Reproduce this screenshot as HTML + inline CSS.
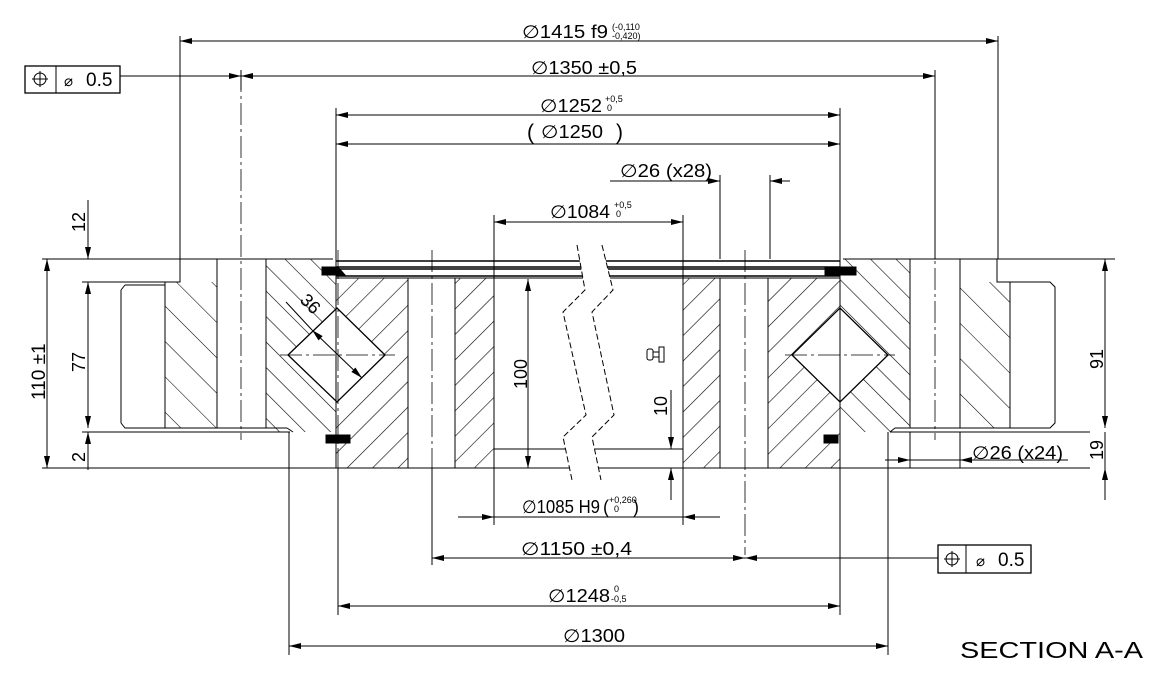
<!DOCTYPE html>
<html><head><meta charset="utf-8"><style>
html,body{margin:0;padding:0;background:#fff}
svg{display:block}
text{font-family:"Liberation Sans",sans-serif;fill:#000}
</style></head><body>
<svg width="1163" height="676" viewBox="0 0 1163 676" xmlns="http://www.w3.org/2000/svg">
<defs>
<marker id="a" viewBox="0 0 12 6" refX="12" refY="3" markerWidth="12" markerHeight="6" markerUnits="userSpaceOnUse" orient="auto-start-reverse"><path d="M0,0L12,3L0,6z" fill="#000"/></marker>
<pattern id="hb" width="18" height="18" patternUnits="userSpaceOnUse" patternTransform="rotate(-45)"><line x1="0" y1="0" x2="0" y2="18" stroke="#000" stroke-width="1.2"/></pattern>
<pattern id="hb2" width="25" height="25" patternUnits="userSpaceOnUse" patternTransform="rotate(-45)"><line x1="0" y1="0" x2="0" y2="25" stroke="#000" stroke-width="1.1"/></pattern>
<pattern id="hf" width="18" height="18" patternUnits="userSpaceOnUse" patternTransform="rotate(45)"><line x1="0" y1="0" x2="0" y2="18" stroke="#000" stroke-width="1.2"/></pattern>
</defs>
<g stroke="#000" fill="none" stroke-width="1">
<rect x="165" y="282" width="52" height="146" fill="url(#hb2)" stroke="none"/>
<rect x="266" y="259" width="70" height="173" fill="url(#hb)" stroke="none"/>
<rect x="336" y="278" width="72" height="190" fill="url(#hf)" stroke="none"/>
<rect x="455" y="278" width="39" height="190" fill="url(#hf)" stroke="none"/>
<rect x="683" y="278" width="37" height="190" fill="url(#hf)" stroke="none"/>
<rect x="768" y="278" width="72" height="190" fill="url(#hf)" stroke="none"/>
<rect x="840" y="259" width="70" height="173" fill="url(#hb)" stroke="none"/>
<rect x="960" y="282" width="50" height="146" fill="url(#hb2)" stroke="none"/>
<path d="M288,355L337,308L385,355L337,402Z" fill="#fff" stroke-width="1.3"/>
<path d="M792,355L840,308L888,355L840,402Z" fill="#fff" stroke-width="1.3"/>
<path d="M42,259H333 M82,282H180V259 M125,285H165 M121,290V423 M125,285L121,290 M121,423L125,428H287 M82,432H290 M165,282V428 M217,259V428 M266,259V428 M287,428L293,432"/>
<path d="M843,259H1115 M997,259V282H1050L1055,287V423L1050,428H895 M890,432H1090 M910,259V428 M960,259V428 M1010,282V428 M895,428L890,432"/>
<path d="M336,278H840 M336,468H1090 M42,468H336 M408,278V468 M455,278V468 M494,278V468 M683,278V468 M720,278V468 M768,278V468 M336,259V468 M840,259V468 M494,449H683"/>
<path d="M336,261H840 M336,267H840 M336,269H840 M336,276H840" stroke-width="1.4"/>
<path d="M322,267H338L345,275H322Z M825,267H856V275H825Z M326,435H350V443H326Z M824,435H838V443H824Z" fill="#000"/>
<g stroke-dasharray="22,4,3,4" stroke-width="0.8">
<line x1="241" y1="70" x2="241" y2="440"/><line x1="432" y1="250" x2="432" y2="480"/>
<line x1="745" y1="250" x2="745" y2="555"/><line x1="935" y1="70" x2="935" y2="440"/>
<line x1="280" y1="355" x2="395" y2="355"/><line x1="785" y1="355" x2="895" y2="355"/>
<line x1="338" y1="250" x2="338" y2="480"/><line x1="840" y1="250" x2="840" y2="480"/>
</g>
<path d="M577,245L585,290L563,312L586,415L563,437L572,480L601,480L592,437L614,415L592,312L613,290L602,245Z" fill="#fff" stroke="none"/>
<path d="M577,245L585,290L563,312L586,415L563,437L572,480 M602,245L613,290L592,312L614,415L592,437L601,480" stroke-dasharray="6,3"/>
<rect x="647" y="349" width="6" height="11" rx="2"/><path d="M653,352H659V357H653 M659,347H664V362H659Z"/>
<line x1="286" y1="302" x2="312" y2="330"/>
<line x1="312" y1="330" x2="362" y2="378" marker-start="url(#a)" marker-end="url(#a)"/>
<path d="M180,36V259 M998,36V259 M241,70V90 M935,70V259 M336,108V259 M840,108V259 M720,175V259 M770,175V259 M494,215V278 M683,215V278 M289,432V655 M888,432V655 M338,468V615 M840,468V615 M432,468V565 M494,468V525 M683,468V525 M910,432V468 M960,432V468 M1010,259H1115"/>
<line x1="180" y1="41" x2="998" y2="41" marker-start="url(#a)" marker-end="url(#a)"/>
<line x1="120" y1="76" x2="241" y2="76" marker-end="url(#a)"/>
<line x1="241" y1="76" x2="935" y2="76" marker-start="url(#a)" marker-end="url(#a)"/>
<line x1="336" y1="115" x2="840" y2="115" marker-start="url(#a)" marker-end="url(#a)"/>
<line x1="336" y1="144" x2="840" y2="144" marker-start="url(#a)" marker-end="url(#a)"/>
<line x1="610" y1="181" x2="720" y2="181" marker-end="url(#a)"/>
<line x1="790" y1="181" x2="770" y2="181" marker-end="url(#a)"/>
<line x1="494" y1="222" x2="683" y2="222" marker-start="url(#a)" marker-end="url(#a)"/>
<line x1="458" y1="517" x2="494" y2="517" marker-end="url(#a)"/>
<line x1="720" y1="517" x2="683" y2="517" marker-end="url(#a)"/>
<line x1="494" y1="517" x2="683" y2="517"/>
<line x1="432" y1="558" x2="745" y2="558" marker-start="url(#a)" marker-end="url(#a)"/>
<line x1="938" y1="558" x2="745" y2="558" marker-end="url(#a)"/>
<line x1="338" y1="606" x2="840" y2="606" marker-start="url(#a)" marker-end="url(#a)"/>
<line x1="289" y1="646" x2="888" y2="646" marker-start="url(#a)" marker-end="url(#a)"/>
<line x1="885" y1="460" x2="910" y2="460" marker-end="url(#a)"/>
<line x1="985" y1="460" x2="960" y2="460" marker-end="url(#a)"/>
<line x1="910" y1="460" x2="1068" y2="460"/>
<line x1="88" y1="200" x2="88" y2="259" marker-end="url(#a)"/>
<line x1="88" y1="282" x2="88" y2="428" marker-start="url(#a)" marker-end="url(#a)"/>
<line x1="88" y1="432" x2="88" y2="470" marker-start="url(#a)"/>
<line x1="47" y1="259" x2="47" y2="468" marker-start="url(#a)" marker-end="url(#a)"/>
<line x1="1105" y1="259" x2="1105" y2="428" marker-start="url(#a)" marker-end="url(#a)"/>
<line x1="1105" y1="500" x2="1105" y2="468" marker-end="url(#a)"/>
<line x1="1105" y1="432" x2="1105" y2="468"/>
<line x1="528" y1="279" x2="528" y2="468" marker-start="url(#a)" marker-end="url(#a)"/>
<line x1="671" y1="390" x2="671" y2="449" marker-end="url(#a)"/>
<line x1="671" y1="500" x2="671" y2="468" marker-end="url(#a)"/>
<rect x="25" y="66" width="95" height="27" stroke-width="1.3"/><line x1="56" y1="66" x2="56" y2="93"/>
<circle cx="40" cy="79" r="6"/><path d="M40,71V87 M32,79H48"/>
<rect x="938" y="545" width="93" height="28" stroke-width="1.3"/><line x1="966" y1="545" x2="966" y2="573"/>
<circle cx="952" cy="559" r="6"/><path d="M952,551V567 M944,559H960"/>
</g>
<g font-size="18">
<text x="64" y="86" font-size="15">⌀</text><text x="86" y="86" font-size="19">0.5</text>
<text x="976" y="566" font-size="15">⌀</text><text x="998" y="566" font-size="19">0.5</text>
<text x="522" y="38" textLength="86" lengthAdjust="spacingAndGlyphs">∅1415 f9</text><text x="612" y="30" font-size="9">(-0,110</text><text x="612" y="39" font-size="9">-0,420)</text>
<text x="531" y="74" textLength="106" lengthAdjust="spacingAndGlyphs">∅1350 ±0,5</text>
<text x="540" y="112" textLength="62" lengthAdjust="spacingAndGlyphs">∅1252</text><text x="605" y="102" font-size="9">+0,5</text><text x="607" y="111" font-size="9">0</text>
<text x="527" y="139" font-size="21">(</text><text x="541" y="138" textLength="62" lengthAdjust="spacingAndGlyphs">∅1250</text><text x="616" y="139" font-size="21">)</text>
<text x="620" y="177" textLength="92" lengthAdjust="spacingAndGlyphs">∅26 (x28)</text>
<text x="550" y="218" textLength="60" lengthAdjust="spacingAndGlyphs">∅1084</text><text x="614" y="208" font-size="9">+0,5</text><text x="616" y="217" font-size="9">0</text>
<text x="522" y="513" textLength="78" lengthAdjust="spacingAndGlyphs">∅1085 H9</text><text x="603" y="513">(</text><text x="609" y="503" font-size="9">+0,260</text><text x="614" y="512" font-size="9">0</text><text x="633" y="513">)</text>
<text x="521" y="555" textLength="111" lengthAdjust="spacingAndGlyphs">∅1150 ±0,4</text>
<text x="548" y="602" textLength="62" lengthAdjust="spacingAndGlyphs">∅1248</text><text x="614" y="592" font-size="9">0</text><text x="611" y="602" font-size="9">-0,5</text>
<text x="563" y="642" textLength="62" lengthAdjust="spacingAndGlyphs">∅1300</text>
<text x="972" y="459" textLength="91" lengthAdjust="spacingAndGlyphs">∅26 (x24)</text>
<text x="960" y="658" font-size="23" textLength="183" lengthAdjust="spacingAndGlyphs">SECTION A-A</text>
<text transform="translate(85,232) rotate(-90)">12</text>
<text transform="translate(85,372) rotate(-90)">77</text>
<text transform="translate(85,462) rotate(-90)">2</text>
<text transform="translate(45,400) rotate(-90)" font-size="19">110 ±1</text>
<text transform="translate(1103,369) rotate(-90)">91</text>
<text transform="translate(1103,460) rotate(-90)">19</text>
<text transform="translate(527,389) rotate(-90)">100</text>
<text transform="translate(667,416) rotate(-90)">10</text>
<text transform="translate(299,301) rotate(45)">36</text>
</g>
</svg>
</body></html>
